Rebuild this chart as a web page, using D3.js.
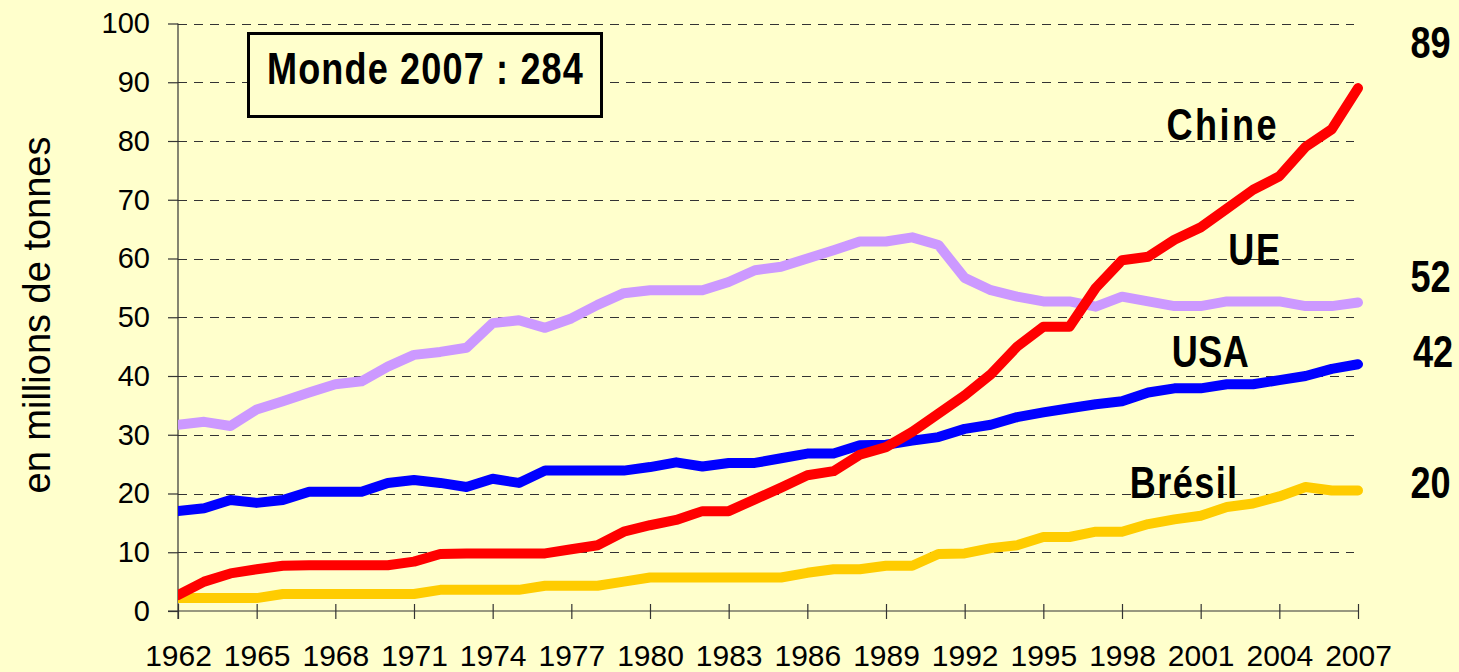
<!DOCTYPE html>
<html>
<head>
<meta charset="utf-8">
<script src="https://cdn.jsdelivr.net/npm/d3@7"></script>
<style>
  html, body { margin: 0; padding: 0; background: #ffffcc; }
  svg { display: block; }
  .bold { font-family: "Liberation Sans", Arial, sans-serif; font-weight: bold; }
</style>
</head>
<body>
<svg id="chart"></svg>
<script>
// years on the category axis
const years = [1962, 1963, 1964, 1965, 1966, 1967, 1968, 1969, 1970, 1971,
    1972, 1973, 1974, 1975, 1976, 1977, 1978, 1979, 1980, 1981,
    1982, 1983, 1984, 1985, 1986, 1987, 1988, 1989, 1990, 1991,
    1992, 1993, 1994, 1995, 1996, 1997, 1998, 1999, 2000, 2001,
    2002, 2003, 2004, 2005, 2006, 2007];
const tickYears = [1962, 1965, 1968, 1971, 1974, 1977, 1980, 1983, 1986, 1989, 1992, 1995, 1998, 2001, 2004, 2007];
const yTicks = [0, 10, 20, 30, 40, 50, 60, 70, 80, 90, 100];

// millions de tonnes
const ue = [31.7, 32.2, 31.5, 34.3, 35.7, 37.2, 38.6, 39.1, 41.6, 43.6,
    44.1, 44.8, 49, 49.5, 48.2, 49.8, 52.1, 54.1, 54.6, 54.6,
    54.6, 56, 58, 58.6, 60, 61.4, 62.9, 62.9, 63.6, 62.3,
    56.7, 54.6, 53.5, 52.7, 52.7, 51.8, 53.5, 52.7, 51.9, 51.9,
    52.7, 52.7, 52.7, 51.9, 51.9, 52.5];
const usa = [17, 17.5, 18.9, 18.4, 18.9, 20.3, 20.3, 20.3, 21.8, 22.3,
    21.8, 21.1, 22.5, 21.8, 23.9, 23.9, 23.9, 23.9, 24.5, 25.3,
    24.6, 25.2, 25.2, 26, 26.8, 26.8, 28.2, 28.3, 29, 29.6,
    31, 31.7, 33, 33.8, 34.5, 35.2, 35.7, 37.2, 37.9, 37.9,
    38.6, 38.6, 39.3, 40, 41.2, 42];
const bresil = [2.2, 2.2, 2.2, 2.2, 2.9, 2.9, 2.9, 2.9, 2.9, 2.9,
    3.6, 3.6, 3.6, 3.6, 4.3, 4.3, 4.3, 5, 5.7, 5.7,
    5.7, 5.7, 5.7, 5.7, 6.5, 7.1, 7.1, 7.7, 7.7, 9.7,
    9.8, 10.7, 11.2, 12.6, 12.6, 13.5, 13.5, 14.8, 15.6, 16.2,
    17.7, 18.3, 19.5, 21.1, 20.5, 20.5];
const chine = [2.7, 5, 6.4, 7.1, 7.7, 7.8, 7.8, 7.8, 7.8, 8.4,
    9.7, 9.8, 9.8, 9.8, 9.8, 10.5, 11.2, 13.5, 14.6, 15.5,
    17, 17, 19, 21, 23.1, 23.8, 26.6, 27.9, 30.5, 33.6,
    36.7, 40.3, 45, 48.4, 48.4, 55, 59.7, 60.3, 63.2, 65.3,
    68.5, 71.7, 74, 79, 82, 89];

const seriesNames = ["UE", "USA", "Brésil", "Chine"];
const lastValues = ["52", "42", "20", "89"];
const worldLabel = "Monde 2007 : 284";
const yTitle = "en millions de tonnes";

const W = 1459, H = 672;
const margin = { top: 23.5, right: 101, bottom: 61, left: 178 };
// the bold labels are a condensed face; squeeze the regular bold to match
const narrow = 0.82;

const svg = d3.select("#chart").attr("width", W).attr("height", H);
svg.append("rect").attr("width", W).attr("height", H).attr("fill", "#ffffcc");

const x = d3.scaleLinear().domain([1962, 2007]).range([margin.left, W - margin.right]);
const y = d3.scaleLinear().domain([0, 100]).range([H - margin.bottom, margin.top]);

// dashed grid
svg.append("g")
    .selectAll("line")
    .data(yTicks.filter(d => d > 0))
    .join("line")
    .attr("x1", x(1962))
    .attr("x2", x(2007) - 4)
    .attr("y1", d => Math.round(y(d)) + 0.5)
    .attr("y2", d => Math.round(y(d)) + 0.5)
    .attr("stroke", "#333")
    .attr("stroke-width", 1.2)
    .attr("stroke-dasharray", "9,7");

// y axis
const yAxis = svg.append("g")
    .attr("transform", `translate(${margin.left},0)`)
    .call(d3.axisLeft(y).tickValues(yTicks).tickSize(10).tickPadding(18).tickFormat(d3.format("d")));
yAxis.select(".domain").attr("stroke", "#333").attr("stroke-width", 1.2).attr("d", `M0,${y(100)}V${y(0) + 8}`);
yAxis.selectAll(".tick line").attr("stroke", "#333").attr("stroke-width", 1.2);
yAxis.selectAll(".tick text")
    .attr("font-family", "'Liberation Sans', Arial, sans-serif")
    .attr("font-size", 29)
    .attr("fill", "#000");

// x axis
const xAxis = svg.append("g")
    .attr("transform", `translate(0,${y(0)})`)
    .call(d3.axisBottom(x).tickValues(tickYears).tickSize(8).tickPadding(26).tickFormat(d3.format("d")));
xAxis.select(".domain").attr("stroke", "#333").attr("stroke-width", 1.2).attr("d", `M${margin.left - 10},0H${x(2007)}`);
xAxis.selectAll(".tick line").attr("stroke", "#333").attr("stroke-width", 1.2).attr("y1", -7);
xAxis.selectAll(".tick text")
    .attr("font-family", "'Liberation Sans', Arial, sans-serif")
    .attr("font-size", 30)
    .attr("fill", "#000");

// y title
svg.append("text")
    .attr("transform", "rotate(-90)")
    .attr("x", -315)
    .attr("y", 50)
    .attr("text-anchor", "middle")
    .attr("font-family", "'Liberation Sans', Arial, sans-serif")
    .attr("font-size", 38)
    .attr("fill", "#000")
    .text(yTitle);

// lines
svg.append("clipPath").attr("id", "clip")
    .append("rect")
    .attr("x", margin.left)
    .attr("y", 0)
    .attr("width", W - margin.left)
    .attr("height", H);

const series = [
    { name: seriesNames[0], values: ue, colour: "#cc99ff" },
    { name: seriesNames[1], values: usa, colour: "#0000ff" },
    { name: seriesNames[2], values: bresil, colour: "#ffcc00" },
    { name: seriesNames[3], values: chine, colour: "#ff0000" }
];

const line = d3.line()
    .x((d, i) => x(years[i]))
    .y(d => y(d));

svg.append("g")
    .attr("clip-path", "url(#clip)")
    .selectAll("path")
    .data(series)
    .join("path")
    .attr("d", d => line(d.values))
    .attr("fill", "none")
    .attr("stroke", d => d.colour)
    .attr("stroke-width", 10)
    .attr("stroke-linejoin", "round")
    .attr("stroke-linecap", "round");

// world total box
const box = svg.append("g");
box.append("rect")
    .attr("x", 248.5).attr("y", 33.5)
    .attr("width", 353).attr("height", 83)
    .attr("fill", "#ffffcc")
    .attr("stroke", "#000")
    .attr("stroke-width", 3);
box.append("text")
    .attr("class", "bold")
    .attr("transform", `translate(267,84) scale(${narrow},1)`)
    .attr("font-size", 44)
    .attr("letter-spacing", 1.4)
    .attr("fill", "#000")
    .text(worldLabel);

// series names and last values, placed in data space
const labels = [
    { text: seriesNames[3], year: 1999.7, value: 80.2, spacing: 3 },
    { text: seriesNames[0], year: 2002.05, value: 58.9, spacing: 2 },
    { text: seriesNames[1], year: 1999.9, value: 41.5, spacing: 0.5 },
    { text: seriesNames[2], year: 1998.3, value: 19.2, spacing: 1.7 },
    { text: lastValues[3], year: 2009, value: 94.1, spacing: 0 },
    { text: lastValues[0], year: 2009, value: 54.3, spacing: 0 },
    { text: lastValues[1], year: 2009.1, value: 41.5, spacing: 0 },
    { text: lastValues[2], year: 2009, value: 19.2, spacing: 0 }
];

svg.append("g")
    .selectAll("text")
    .data(labels)
    .join("text")
    .attr("class", "bold")
    .attr("transform", d => `translate(${x(d.year)},${y(d.value)}) scale(${narrow},1)`)
    .attr("font-size", 44)
    .attr("letter-spacing", d => d.spacing)
    .attr("fill", "#000")
    .text(d => d.text);
</script>
</body>
</html>
